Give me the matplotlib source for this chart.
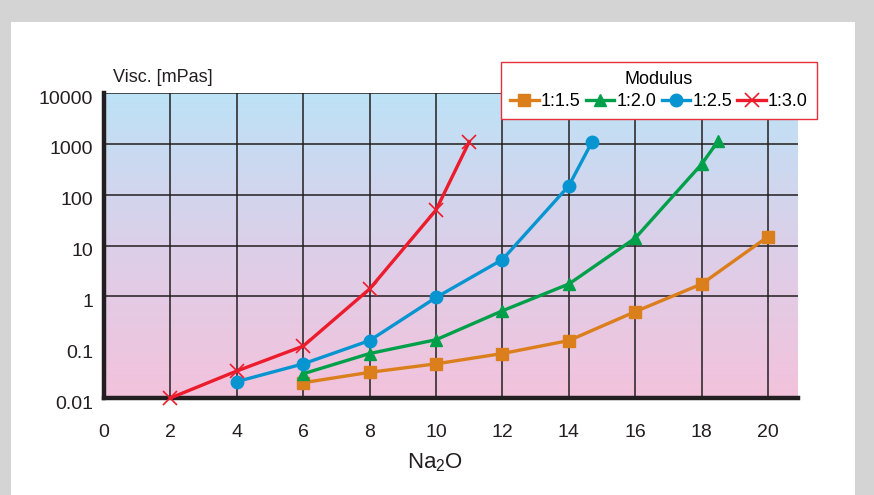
import numpy as np
import matplotlib.pyplot as plt
import matplotlib.transforms as mtransforms
from matplotlib.colors import LinearSegmentedColormap
from matplotlib.patches import Rectangle

plt.rcParams["font.family"] = ["Liberation Sans", "DejaVu Sans"]
plt.rcParams["mathtext.default"] = "regular"

# Na2O content and viscosity per modulus
x_15 = [6, 8, 10, 12, 14, 16, 18, 20]
y_15 = [0.02, 0.032, 0.047, 0.075, 0.135, 0.5, 1.75, 15]
x_20 = [6, 8, 10, 12, 14, 16, 18, 18.5]
y_20 = [0.03, 0.075, 0.14, 0.52, 1.75, 14, 400, 1150]
x_25 = [4, 6, 8, 10, 12, 14, 14.7]
y_25 = [0.021, 0.047, 0.135, 0.95, 5.3, 150, 1100]
x_30 = [2, 4, 6, 8, 10, 11]
y_30 = [0.01, 0.034, 0.105, 1.4, 50, 1100]

labels = ["1:1.5", "1:2.0", "1:2.5", "1:3.0"]
colors = ["#da7f1c", "#00a04b", "#0795d2", "#ec1c2c"]
markers = ["s", "^", "o", "x"]

W, H = 874, 495
fig = plt.figure(figsize=(W / 100, H / 100), dpi=100)
fig.patch.set_facecolor("#d4d4d5")
fig.patches.append(Rectangle((11 / W, 0), (855 - 11) / W, 1 - 22 / H,
                             transform=fig.transFigure, facecolor="white",
                             edgecolor="none", zorder=-10))

ax = fig.add_axes([104 / W, 1 - 398 / H, (798 - 104) / W, (398 - 93) / H])
ax.set_facecolor("none")

# background gradient, blue on top to pink at bottom
cmap = LinearSegmentedColormap.from_list("bg", ["#f3c2dc", "#dccfe9", "#bde2f6"])
grad = np.linspace(0, 1, 256).reshape(-1, 1)
ax.imshow(grad, cmap=cmap, aspect="auto", extent=[0, 1, 0, 1],
          transform=ax.transAxes, origin="lower", zorder=0)

ax.set_yscale("log")
ax.set_xlim(0, 20.9)
ax.set_ylim(0.01, 10000)
ax.set_xticks(range(0, 21, 2))
yt = [0.01, 0.1, 1, 10, 100, 1000, 10000]
ax.set_yticks(yt)
ax.set_yticklabels(["0.01", "0.1", "1", "10", "100", "1000", "10000"])
ax.minorticks_off()
ax.tick_params(length=0, labelsize=14, colors="#231f20")
ax.tick_params(axis="y", pad=8)
ax.tick_params(axis="x", pad=19)

# y labels sit a little lower than the grid in the original
shift = mtransforms.ScaledTranslation(0, -3 / 72, fig.dpi_scale_trans)
for lbl in ax.get_yticklabels():
    lbl.set_transform(lbl.get_transform() + shift)

# grid lines (no line at 0.1 in the original)
for xv in range(2, 21, 2):
    ax.axvline(xv, color="#231f20", lw=1.1, zorder=1)
for yv in [1, 10, 100, 1000, 10000]:
    ax.axhline(yv, color="#231f20", lw=1.1, zorder=1)

for s in ["top", "right"]:
    ax.spines[s].set_visible(False)
for s in ["left", "bottom"]:
    ax.spines[s].set_linewidth(3.2)
    ax.spines[s].set_color("#231f20")
    ax.spines[s].set_zorder(3)

series = [(x_15, y_15), (x_20, y_20), (x_25, y_25), (x_30, y_30)]
for (xs, ys), lab, c, m in zip(series, labels, colors, markers):
    if m == "x":
        ax.plot(xs, ys, color=c, lw=2.4, marker=m, ms=10, mew=1.2,
                label=lab, zorder=4, clip_on=False)
    else:
        ax.plot(xs, ys, color=c, lw=2.4, marker=m, ms=9,
                label=lab, zorder=4, clip_on=False)

leg = ax.legend(title="Modulus", ncol=4, loc="upper right",
                bbox_to_anchor=(817 / W, 1 - 62 / H),
                bbox_transform=fig.transFigure, fontsize=13, title_fontsize=13,
                frameon=True, fancybox=False, framealpha=1, edgecolor="#e8303a",
                handlelength=1.6, handletextpad=0.1, columnspacing=0.3,
                borderpad=0.5, borderaxespad=0, labelspacing=0.3)
leg.get_frame().set_linewidth(1.0)
leg.set_zorder(10)

fig.text(113 / W, 1 - 78 / H, "Visc. [mPas]", fontsize=13, color="#231f20",
         ha="left", va="center")
fig.text(435 / W, 1 - 463 / H, "Na$_{2}$O", fontsize=16, color="#231f20",
         ha="center", va="center")

fig.savefig("out.png", dpi=100, facecolor=fig.get_facecolor())
